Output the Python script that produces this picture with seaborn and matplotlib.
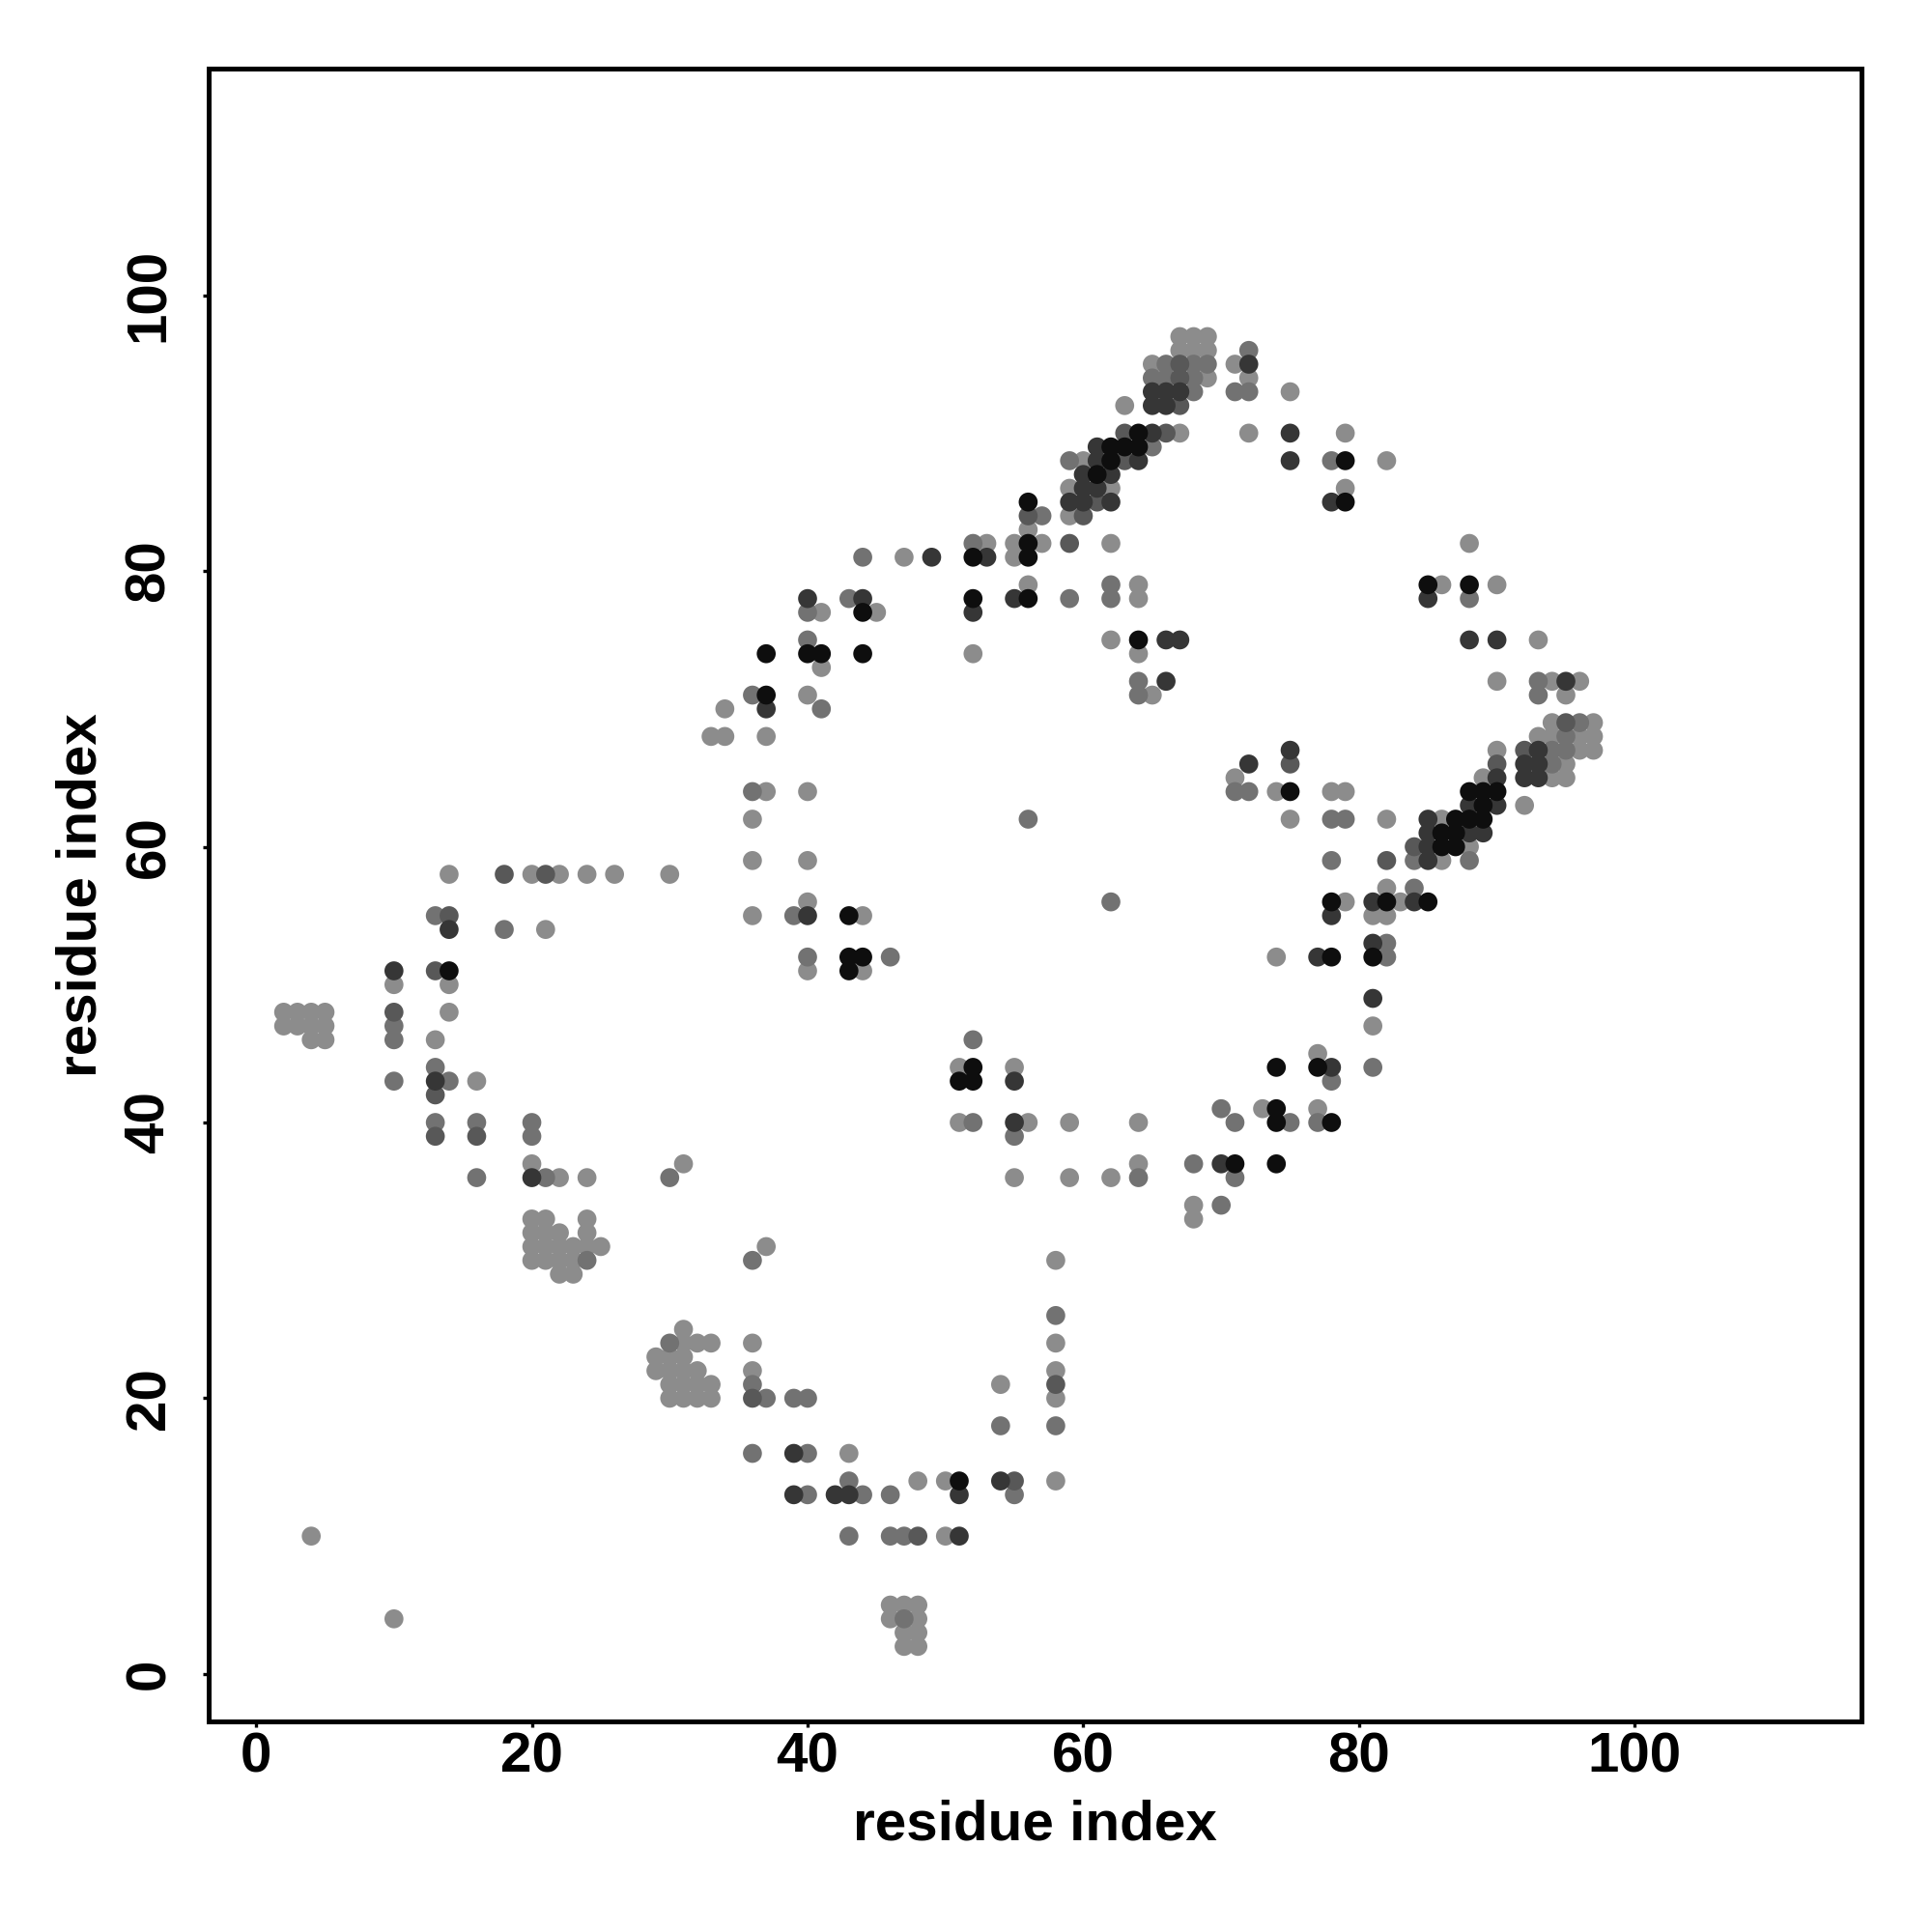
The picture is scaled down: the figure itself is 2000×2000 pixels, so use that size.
import matplotlib
matplotlib.use("Agg")
import matplotlib.pyplot as plt
import seaborn as sns
import pandas as pd

# contact points: residue i (x), residue j (y), intensity level (1 light .. 5 black)
res_x = [
    # left block
    14, 18, 20, 21, 22, 24, 26, 30,
    13, 14, 14, 18, 21,
    10, 13, 14, 10, 14,
    2, 3, 4, 5, 10, 14,
    2, 3, 4, 5, 10,
    4, 5, 10, 13,
    13, 10, 13, 14, 16, 13,
    13, 16, 20, 13, 16, 20,
    20, 31, 16, 20, 21, 22, 24, 30,
    20, 21, 24, 33, 34, 34,
    20, 21, 22, 24,
    20, 21, 22, 23, 24, 25,
    20, 21, 22, 23, 24,
    22, 23,
    31, 30, 31, 32, 33, 29, 30, 31,
    29, 30, 31, 32, 30, 31, 32, 33, 30, 31, 32, 33,
    4, 10,
    # upper cluster
    67, 68, 69,
    67, 68, 69, 72,
    65, 66, 67, 68, 69, 71, 72,
    65, 66, 67, 68, 69, 72,
    65, 66, 67, 68, 71, 72, 75,
    63, 65, 66, 67,
    63, 64, 65, 66, 67, 72, 75, 79,
    61, 62, 63, 64, 65,
    59, 60, 61, 62, 63, 64, 75, 78, 79, 82,
    60, 61, 62,
    59, 60, 61, 62, 79,
    56, 59, 60, 61, 62, 78, 79,
    56, 57, 59, 60,
    56,
    52, 53, 55, 56, 57, 59, 62, 88,
    44, 47, 49, 52, 53, 55, 56,
    56, 62, 64, 85, 86, 88, 90,
    40, 43, 44, 52, 55, 56, 59, 62, 64, 85, 88,
    40, 41, 44, 45, 52,
    40, 62, 64, 66, 67, 88, 90, 93,
    37, 40, 41, 44, 52, 64,
    41,
    64, 66, 90, 93, 94, 95, 96,
    36, 37, 40, 64, 65, 93, 95,
    37, 41,
    94, 95, 96, 97,
    37, 93, 94, 95, 96, 97,
    # right middle block
    75, 90, 92, 93, 94, 95, 96, 97,
    72, 75, 90, 92, 93, 94, 95,
    71, 89, 90, 92, 93, 94, 95,
    71, 72, 74, 75, 78, 79, 88, 89, 90,
    88, 89, 90, 92,
    75, 78, 79, 82, 85, 86, 87, 88, 89,
    85, 86, 87, 88, 89,
    84, 85, 86, 87, 88,
    78, 82, 84, 85, 86, 88,
    82, 84,
    78, 79, 81, 82, 83, 84, 85,
    78, 81, 82,
    81, 82,
    74, 77, 78, 81, 82,
    81, 81, 77,
    74, 77, 78, 81,
    78,
    70, 73, 74, 77,
    71, 74, 75, 77, 78,
    68, 70, 71, 74,
    71, 68, 70, 68,
    # central block
    36, 37, 40,
    36, 56,
    36, 40,
    40, 62,
    36, 39, 40, 43, 44,
    40, 43, 44, 46,
    40, 43, 44,
    52,
    51, 52, 55,
    51, 52, 55,
    51, 52, 55, 56, 59, 64,
    55,
    64,
    55, 59, 62, 64,
    # lower block
    37, 36, 58, 58, 36, 58, 36, 58,
    36, 54, 58,
    36, 37, 39, 40, 58,
    54, 58,
    36, 39, 40, 43,
    43, 48, 50, 51, 54, 55, 58,
    39, 40, 42, 43, 44, 46, 51, 55,
    43, 46, 47, 48, 50, 51,
    46, 47, 48,
    46, 47, 48,
    47, 48,
    47, 48,
]

res_y = [
    58, 58, 58, 58, 58, 58, 58, 58,
    55, 55, 54, 54, 54,
    51, 51, 51, 50, 50,
    48, 48, 48, 48, 48, 48,
    47, 47, 47, 47, 47,
    46, 46, 46, 46,
    44, 43, 43, 43, 43, 42,
    40, 40, 40, 39, 39, 39,
    37, 37, 36, 36, 36, 36, 36, 36,
    33, 33, 33, 68, 68, 70,
    32, 32, 32, 32,
    31, 31, 31, 31, 31, 31,
    30, 30, 30, 30, 30,
    29, 29,
    25, 24, 24, 24, 24, 23, 23, 23,
    22, 22, 22, 22, 21, 21, 21, 21, 20, 20, 20, 20,
    10, 4,
    97, 97, 97,
    96, 96, 96, 96,
    95, 95, 95, 95, 95, 95, 95,
    94, 94, 94, 94, 94, 94,
    93, 93, 93, 93, 93, 93, 93,
    92, 92, 92, 92,
    90, 90, 90, 90, 90, 90, 90, 90,
    89, 89, 89, 89, 89,
    88, 88, 88, 88, 88, 88, 88, 88, 88, 88,
    87, 87, 87,
    86, 86, 86, 86, 86,
    85, 85, 85, 85, 85, 85, 85,
    84, 84, 84, 84,
    83,
    82, 82, 82, 82, 82, 82, 82, 82,
    81, 81, 81, 81, 81, 81, 81,
    79, 79, 79, 79, 79, 79, 79,
    78, 78, 78, 78, 78, 78, 78, 78, 78, 78, 78,
    77, 77, 77, 77, 77,
    75, 75, 75, 75, 75, 75, 75, 75,
    74, 74, 74, 74, 74, 74,
    73,
    72, 72, 72, 72, 72, 72, 72,
    71, 71, 71, 71, 71, 71, 71,
    70, 70,
    69, 69, 69, 69,
    68, 68, 68, 68, 68, 68,
    67, 67, 67, 67, 67, 67, 67, 67,
    66, 66, 66, 66, 66, 66, 66,
    65, 65, 65, 65, 65, 65, 65,
    64, 64, 64, 64, 64, 64, 64, 64, 64,
    63, 63, 63, 63,
    62, 62, 62, 62, 62, 62, 62, 62, 62,
    61, 61, 61, 61, 61,
    60, 60, 60, 60, 60,
    59, 59, 59, 59, 59, 59,
    57, 57,
    56, 56, 56, 56, 56, 56, 56,
    55, 55, 55,
    53, 53,
    52, 52, 52, 52, 52,
    49, 47, 45,
    44, 44, 44, 44,
    43,
    41, 41, 41, 41,
    40, 40, 40, 40, 40,
    37, 37, 37, 37,
    36, 34, 34, 33,
    64, 64, 64,
    62, 62,
    59, 59,
    56, 56,
    55, 55, 55, 55, 55,
    52, 52, 52, 52,
    51, 51, 51,
    46,
    44, 44, 44,
    43, 43, 43,
    40, 40, 40, 40, 40, 40,
    39,
    37,
    36, 36, 36, 36,
    31, 30, 30, 26, 24, 24, 22, 22,
    21, 21, 21,
    20, 20, 20, 20, 20,
    18, 18,
    16, 16, 16, 16,
    14, 14, 14, 14, 14, 14, 14,
    13, 13, 13, 13, 13, 13, 13, 13,
    10, 10, 10, 10, 10, 10,
    5, 5, 5,
    4, 4, 4,
    3, 3,
    2, 2,
]

level = [
    1, 3, 1, 3, 1, 1, 1, 1,
    2, 3, 4, 2, 1,
    4, 3, 5, 1, 1,
    1, 1, 1, 1, 3, 1,
    1, 1, 1, 1, 2,
    1, 1, 2, 1,
    2, 2, 4, 2, 1, 3,
    2, 2, 2, 3, 3, 2,
    1, 1, 2, 4, 2, 1, 1, 2,
    1, 1, 1, 1, 1, 1,
    1, 1, 1, 1,
    1, 1, 1, 1, 1, 1,
    1, 1, 1, 1, 2,
    1, 1,
    1, 2, 1, 1, 1, 1, 1, 1,
    1, 1, 1, 1, 1, 1, 1, 1, 1, 1, 1, 1,
    1, 1,
    1, 1, 1,
    1, 1, 1, 2,
    1, 2, 3, 2, 2, 1, 4,
    2, 2, 3, 2, 1, 1,
    4, 4, 4, 2, 2, 2, 1,
    1, 4, 4, 3,
    3, 5, 4, 3, 1, 1, 4, 1,
    4, 5, 5, 5, 2,
    2, 1, 4, 5, 3, 4, 4, 2, 5, 1,
    4, 5, 4,
    1, 4, 4, 1, 1,
    5, 4, 4, 3, 4, 4, 5,
    3, 2, 1, 3,
    1,
    2, 1, 1, 5, 1, 3, 1, 1,
    2, 1, 4, 5, 4, 1, 5,
    1, 2, 1, 5, 1, 5, 1,
    4, 2, 4, 5, 4, 5, 2, 2, 1, 4, 2,
    2, 1, 5, 1, 4,
    2, 1, 5, 4, 4, 4, 4, 1,
    5, 5, 5, 5, 1, 1,
    1,
    2, 4, 1, 2, 1, 4, 1,
    2, 5, 1, 2, 1, 2, 1,
    4, 2,
    1, 3, 2, 1,
    1, 1, 1, 2, 1, 1,
    4, 1, 3, 4, 2, 2, 1, 1,
    4, 3, 3, 4, 4, 2, 1,
    1, 1, 4, 4, 4, 1, 1,
    2, 2, 1, 5, 1, 1, 5, 5, 5,
    4, 5, 4, 1,
    1, 2, 2, 1, 4, 1, 5, 5, 5,
    4, 5, 5, 4, 4,
    3, 4, 5, 5, 1,
    2, 3, 2, 4, 1, 2,
    1, 2,
    5, 1, 4, 5, 1, 4, 5,
    4, 1, 1,
    4, 2,
    1, 4, 5, 5, 2,
    4, 1, 1,
    5, 5, 4, 2,
    2,
    2, 1, 5, 1,
    2, 5, 2, 2, 5,
    2, 4, 5, 5,
    2, 1, 2, 1,
    2, 1, 1,
    1, 2,
    1, 1,
    1, 2,
    1, 2, 4, 5, 1,
    2, 5, 5, 2,
    1, 5, 1,
    2,
    1, 5, 1,
    5, 5, 4,
    1, 2, 4, 1, 1, 1,
    2,
    1,
    1, 1, 1, 2,
    1, 2, 1, 2, 1, 1, 1, 1,
    2, 1, 3,
    3, 2, 2, 2, 1,
    2, 2,
    2, 4, 2, 1,
    2, 1, 1, 5, 4, 3, 1,
    4, 2, 4, 4, 2, 2, 4, 2,
    2, 2, 2, 3, 1, 4,
    1, 1, 1,
    1, 2, 1,
    1, 1,
    1, 1,
]

level_colors = {1: "#8c8c8c", 2: "#727272", 3: "#585858", 4: "#363636", 5: "#0e0e0e"}

n = min(len(res_x), len(res_y), len(level))
df = pd.DataFrame({"x": res_x[:n], "y": res_y[:n], "level": level[:n]})
df = df.sort_values("level", kind="stable")

sns.set_theme(style="white")
plt.rcParams["font.family"] = ["Liberation Sans", "DejaVu Sans"]
plt.rcParams["font.weight"] = "bold"
plt.rcParams["axes.labelcolor"] = "black"
plt.rcParams["text.color"] = "black"
plt.rcParams["xtick.color"] = "black"
plt.rcParams["ytick.color"] = "black"

fig = plt.figure(figsize=(10, 10), dpi=200)
ax = fig.add_axes([0.108, 0.109, 0.8555, 0.8555])
sns.scatterplot(data=df, x="x", y="y", hue="level", palette=level_colors,
                s=50, linewidth=0, edgecolor="none", legend=False, ax=ax, zorder=3)

ax.set_xlim(-3.44, 116.44)
ax.set_ylim(-3.44, 116.44)
ax.set_xticks([0, 20, 40, 60, 80, 100])
ax.set_yticks([0, 20, 40, 60, 80, 100])
for sp in ax.spines.values():
    sp.set_visible(True)
    sp.set_color("black")
    sp.set_linewidth(1.8)
ax.tick_params(axis="both", which="major", direction="out", length=2.2, width=1.2,
               color="black", labelsize=21, labelcolor="black",
               bottom=True, left=True)
ax.tick_params(axis="x", pad=1.5)
ax.tick_params(axis="y", pad=10, labelrotation=90)
for lab in ax.get_yticklabels():
    lab.set_verticalalignment("center")
    lab.set_fontweight("bold")
for lab in ax.get_xticklabels():
    lab.set_fontweight("bold")
ax.set_xlabel("residue index", fontsize=21, fontweight="bold", labelpad=6, color="black")
ax.set_ylabel("residue index", fontsize=21, fontweight="bold", labelpad=6, color="black")
ax.grid(False)

fig.savefig("out.png", dpi=200, facecolor="white")
